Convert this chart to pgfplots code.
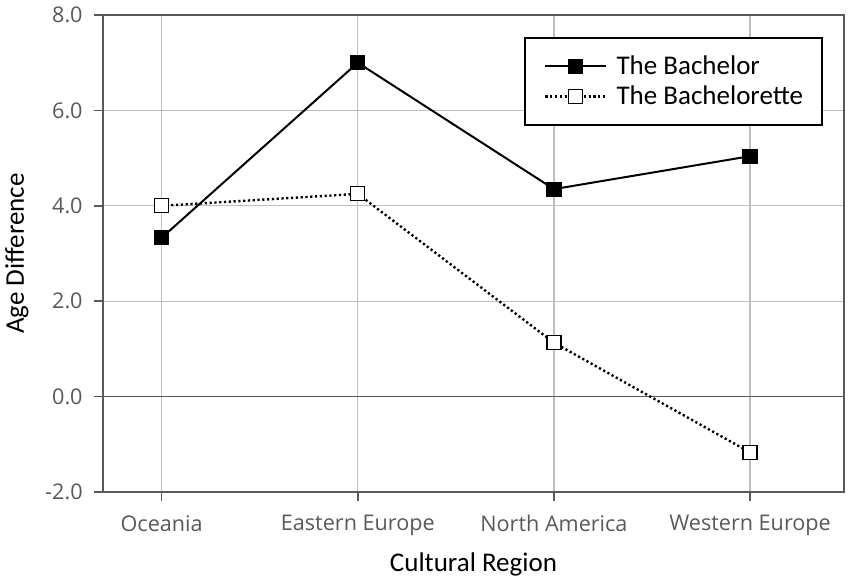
\documentclass[border=0pt]{standalone}
\usepackage{fontspec}
\setmainfont{Carlito}
\newfontfamily\tickfont{Open Sans}
\usepackage{pgfplots}
\pgfplotsset{compat=1.18}
\definecolor{axisgray}{HTML}{595959}
\definecolor{gridgray}{HTML}{BFBFBF}
\begin{document}
\begin{tikzpicture}
\begin{axis}[
  scale only axis,
  width=370.5pt, height=238.5pt,
  xmin=-0.299, xmax=3.479,
  ymin=-2, ymax=8,
  xtick={0,1,2,3},
  xticklabels={Oceania,Eastern Europe,North America,Western Europe},
  ytick={-2,0,2,4,6,8},
  yticklabels={-2.0,0.0,2.0,4.0,6.0,8.0},
  xtick pos=left, ytick pos=left,
  tick align=outside,
  major tick length=4.5pt,
  every tick/.style={axisgray, line width=0.8pt},
  axis line style={axisgray, line width=0.8pt},
  grid=major,
  grid style={gridgray, line width=0.6pt},
  extra y ticks={0},
  extra y tick labels={},
  extra y tick style={grid style={axisgray, line width=0.9pt}, major tick length=0pt},
  ticklabel style={font=\tickfont\fontsize{10.8}{12}\selectfont, text=axisgray},
  yticklabel style={anchor=east, inner sep=0pt, xshift=-5.5pt},
  xticklabel style={anchor=north, inner sep=0pt, yshift=-7pt},
  xlabel={Cultural Region},
  ylabel={Age Difference},
  label style={font=\fontsize{13.5}{16}\selectfont, text=black},
  xlabel style={at={(axis description cs:0.5,0)}, anchor=north, inner sep=0pt, yshift=-30pt},
  ylabel style={at={(axis description cs:-0.1,0.5)}, anchor=south, rotate=0, inner sep=0pt},
  legend style={
    at={(axis description cs:0.9717,0.9539)}, anchor=north east,
    draw=black, line width=0.9pt,
    font=\fontsize{13.5}{16}\selectfont,
    inner xsep=9.5pt, inner ysep=9pt,
    row sep=4.5pt, column sep=4.5pt,
    nodes={inner xsep=0pt, inner ysep=0pt, text height=9.5pt, text depth=1pt},
  },
  legend cell align=left,
  legend image code/.code={
    \draw[mark repeat=2, mark phase=2, #1] plot coordinates {(0pt,0pt) (15.25pt,0pt) (30.5pt,0pt)};
  },
]
\addplot[black, line width=1pt, mark=square*, mark size=3.5pt,
  mark options={solid, fill=black, draw=black, line width=0.6pt}]
  coordinates {(0,3.33) (1,7.0) (2,4.35) (3,5.04)};
\addlegendentry{The Bachelor}
\addplot[black, line width=1.2pt, dash pattern=on 1.1pt off 1.3pt, mark=square*, mark size=3.5pt,
  mark options={solid, fill=white, draw=black, line width=0.6pt}]
  coordinates {(0,4.0) (1,4.25) (2,1.13) (3,-1.17)};
\addlegendentry{The Bachelorette}
\end{axis}
\pgfresetboundingbox
\path (-51.5pt,-45pt) rectangle (374pt,246pt);
\end{tikzpicture}
\end{document}
